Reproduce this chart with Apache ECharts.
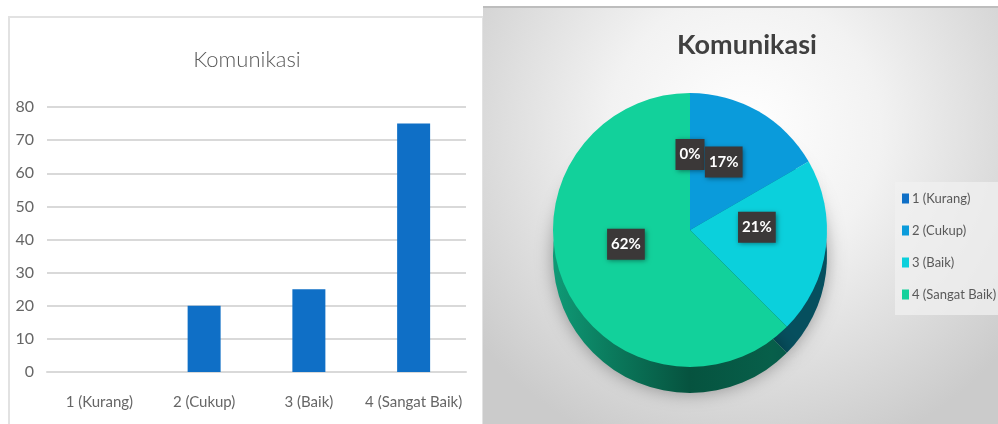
<!DOCTYPE html>
<html>
<head>
<meta charset="utf-8">
<style>
  html, body { margin: 0; padding: 0; background: #fff; }
  #main { width: 998px; height: 424px; }
</style>
<script src="https://cdn.jsdelivr.net/npm/echarts@6/dist/echarts.min.js"></script>
</head>
<body>
<div id="main"></div>
<script>
  const titleText = 'Komunikasi'
  const categories = ['1 (Kurang)', '2 (Cukup)', '3 (Baik)', '4 (Sangat Baik)']
  const values = [0, 20, 25, 75]
  const sliceColors = ['#0f6fc6', '#0a9bdb', '#0bd0dc', '#12d19b']
  const sideColors = ['#0a4a80', '#07597f', '#064f5e']
  const fontName = 'Lato'

  const chart = echarts.init(document.getElementById('main'), null, { renderer: 'canvas' })

  const sideGradient = new echarts.graphic.LinearGradient(553, 0, 826, 0, [
    { offset: 0, color: '#0f9a76' },
    { offset: 0.2, color: '#0b7c5e' },
    { offset: 0.5, color: '#06533f' },
    { offset: 0.8, color: '#075f4a' },
    { offset: 1, color: '#064f4a' }
  ], true)

  // 标签微调，原图的饼心比圆心偏上
  const labelShift = [[0, -4], [-2, -6], [-4, -12], [2, -13]]

  chart.setOption({
    animation: false,
    graphic: [
      // 左边白色面板的边框，下边超出画面
      { type: 'rect', z: -10, shape: { x: 9, y: 17, width: 474, height: 420 }, style: { fill: '#fff', stroke: '#e2e2e2', lineWidth: 2 } },
      // 右边灰色渐变背景
      {
        type: 'rect',
        z: -9,
        shape: { x: 483, y: 7, width: 515, height: 417 },
        style: {
          fill: new echarts.graphic.RadialGradient(745, 130, 340, [
            { offset: 0, color: '#ffffff' },
            { offset: 0.4, color: '#f2f2f2' },
            { offset: 1, color: '#cbcbcb' }
          ], true)
        }
      },
      { type: 'rect', z: -8, shape: { x: 483, y: 6, width: 515, height: 2 }, style: { fill: '#bdbdbd' } },
      { type: 'rect', z: -8, shape: { x: 895, y: 182, width: 103, height: 133 }, style: { fill: 'rgba(240,240,240,0.75)' } }
    ],
    title: [
      {
        text: titleText,
        left: 242,
        top: 44,
        textAlign: 'center',
        textStyle: { fontFamily: fontName, fontSize: 22, fontWeight: 300, color: '#595959' }
      },
      {
        text: titleText,
        left: 742,
        top: 27,
        textAlign: 'center',
        textStyle: { fontFamily: fontName, fontSize: 27, fontWeight: 'bold', color: '#404040' }
      }
    ],
    legend: {
      orient: 'vertical',
      left: 902,
      top: 192,
      padding: 0,
      itemWidth: 7,
      itemHeight: 10,
      itemGap: 19,
      icon: 'rect',
      data: categories,
      selectedMode: false,
      textStyle: { fontFamily: fontName, fontSize: 13, color: '#595959', padding: [0, 0, 0, -2] }
    },
    grid: { left: 47, top: 107, width: 419, height: 265, containLabel: false },
    xAxis: {
      type: 'category',
      data: categories,
      axisTick: { show: false },
      axisLine: { lineStyle: { color: '#d9d9d9', width: 2 } },
      axisLabel: { fontFamily: fontName, fontSize: 15, color: '#666', margin: 23, interval: 0 }
    },
    yAxis: {
      type: 'value',
      min: 0,
      max: 80,
      interval: 10,
      axisLine: { show: false },
      axisTick: { show: false },
      splitLine: { lineStyle: { color: '#d9d9d9', width: 2 } },
      axisLabel: { fontFamily: fontName, fontSize: 16, color: '#666', margin: 13 }
    },
    series: [
      {
        type: 'bar',
        data: values,
        barWidth: 33,
        z: 3,
        itemStyle: { color: '#0f6fc6' }
      },
      {
        type: 'pie',
        center: [690, 230],
        radius: [0, 137],
        startAngle: 90,
        clockwise: true,
        z: 4,
        avoidLabelOverlap: false,
        silent: true,
        data: categories.map((name, i) => ({
          name: name,
          value: values[i],
          itemStyle: { color: sliceColors[i] }
        })),
        label: {
          show: true,
          position: 'inside',
          formatter: '{d}%',
          fontFamily: fontName,
          fontSize: 15,
          fontWeight: 'bold',
          color: '#fff',
          backgroundColor: '#3b3838',
          padding: [8, 4],
          shadowBlur: 5,
          shadowColor: 'rgba(0,0,0,0.45)',
          shadowOffsetX: 1,
          shadowOffsetY: 1
        },
        labelLayout: (params) => ({ dx: labelShift[params.dataIndex][0], dy: labelShift[params.dataIndex][1] }),
        percentPrecision: 0,
        labelLine: { show: false }
      },
      {
        // 饼图下面的厚度，同样的数据往下错开
        type: 'pie',
        center: [690, 256],
        radius: [0, 137],
        startAngle: 90,
        z: 2,
        silent: true,
        data: categories.map((name, i) => ({
          name: name,
          value: values[i],
          itemStyle: { color: i < 3 ? sideColors[i] : sideGradient, shadowBlur: 18, shadowColor: 'rgba(0,0,0,0.35)' }
        })),
        label: { show: false },
        labelLine: { show: false }
      }
    ]
  })
</script>
</body>
</html>
